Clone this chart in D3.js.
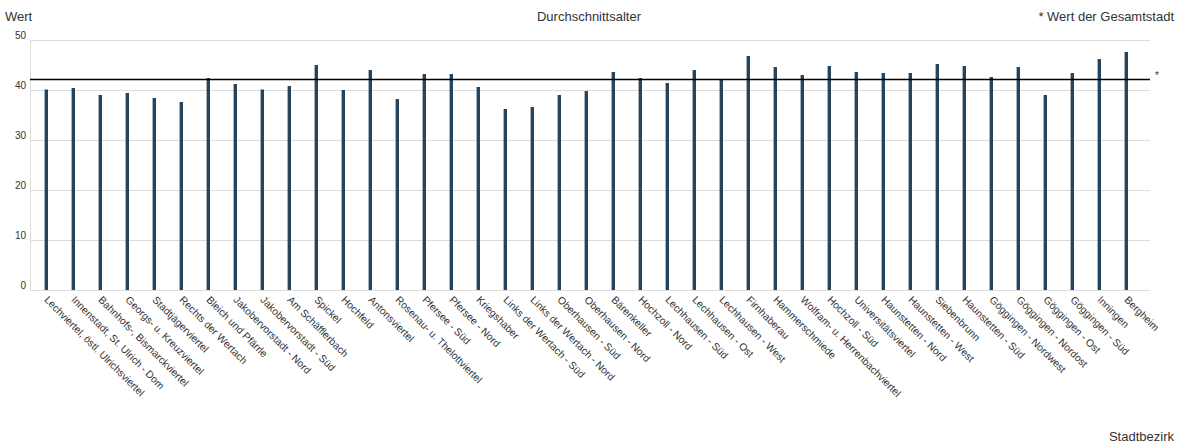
<!DOCTYPE html>
<html><head><meta charset="utf-8">
<script src="https://cdn.jsdelivr.net/npm/d3@7"></script>
<style>body{margin:0;background:#fff}svg{display:block;font-family:"Liberation Sans",Arial,sans-serif}</style>
</head><body><svg id="c" width="1180" height="446"></svg>
<script>
const categories = ["Lechviertel, östl. Ulrichsviertel","Innenstadt, St. Ulrich - Dom","Bahnhofs-, Bismarckviertel","Georgs- u. Kreuzviertel","Stadtjägerviertel","Rechts der Wertach","Bleich und Pfärrle","Jakobervorstadt - Nord","Jakobervorstadt - Süd","Am Schäfflerbach","Spickel","Hochfeld","Antonsviertel","Rosenau- u. Thelottviertel","Pfersee - Süd","Pfersee - Nord","Kriegshaber","Links der Wertach - Süd","Links der Wertach - Nord","Oberhausen - Süd","Oberhausen - Nord","Bärenkeller","Hochzoll - Nord","Lechhausen - Süd","Lechhausen - Ost","Lechhausen - West","Firnhaberau","Hammerschmiede","Wolfram- u. Herrenbachviertel","Hochzoll - Süd","Universitätsviertel","Haunstetten - Nord","Haunstetten - West","Siebenbrunn","Haunstetten - Süd","Göggingen - Nordwest","Göggingen - Nordost","Göggingen - Ost","Göggingen - Süd","Inningen","Bergheim"];
const values = [40.1,40.4,39.0,39.4,38.4,37.6,42.4,41.2,40.1,40.8,45.0,40.0,44.0,38.2,43.2,43.2,40.6,36.2,36.6,39.0,39.8,43.6,42.4,41.4,44.0,42.2,46.8,44.6,43.0,44.8,43.6,43.4,43.4,45.2,44.8,42.6,44.6,39.0,43.4,46.2,47.6];
const cityValue = 42.1;
const yTicks = [0,10,20,30,40,50];
const title = "Durchschnittsalter";
const yTitle = "Wert";
const xTitle = "Stadtbezirk";
const legendText = "* Wert der Gesamtstadt";

const svg = d3.select("#c");
const pL = 30, pR = 1150, pT = 40, pB = 290;
const x = d3.scaleBand().domain(categories).range([32.8, 1139.8]);
const y = d3.scaleLinear().domain([0,50]).range([pB, pT]);
const txt = "#333";

// gridlines
svg.append("g").selectAll("line").data(yTicks).join("line")
  .attr("x1", pL).attr("x2", pR)
  .attr("y1", d => y(d)+0.5).attr("y2", d => y(d)+0.5)
  .attr("stroke", "#dcdcdc").attr("stroke-width", 1);
// y axis line
svg.append("line").attr("x1", pL+0.5).attr("x2", pL+0.5).attr("y1", pT).attr("y2", pB+0.5)
  .attr("stroke", "#dcdcdc");
// tick labels
svg.append("g").selectAll("text").data(yTicks).join("text")
  .attr("x", 26).attr("y", d => y(d)-1).attr("text-anchor", "end")
  .attr("font-size", 10).attr("fill", txt).text(d => d);

// bars
const bw = 3.4;
svg.append("g").selectAll("rect").data(values).join("rect")
  .attr("x", (d,i) => x(categories[i]) + x.bandwidth()/2 - bw/2)
  .attr("width", bw)
  .attr("y", d => y(d)).attr("height", d => y(0) - y(d))
  .attr("fill", "#26445c");

// reference line
svg.append("line").attr("x1", pL).attr("x2", pR)
  .attr("y1", y(cityValue)).attr("y2", y(cityValue))
  .attr("stroke", "#000").attr("stroke-width", 1.4);
svg.append("text").attr("x", 1155).attr("y", y(cityValue)-1).attr("font-size", 10).attr("fill", txt).text("*");

// x labels
svg.append("g").selectAll("text").data(categories).join("text")
  .attr("transform", d => `translate(${x(d)+x.bandwidth()/2},${pB+8}) rotate(45)`)
  .attr("font-size", 10.3).attr("fill", txt).attr("dy", "0.35em").text(d => d);

// titles
svg.append("text").attr("x", 5).attr("y", 21).attr("font-size", 13).attr("fill", txt).text(yTitle);
svg.append("text").attr("x", 589).attr("y", 21).attr("text-anchor", "middle").attr("font-size", 13).attr("fill", txt).text(title);
svg.append("text").attr("x", 1174).attr("y", 21).attr("text-anchor", "end").attr("font-size", 13).attr("fill", txt).text(legendText);
svg.append("text").attr("x", 1174).attr("y", 441).attr("text-anchor", "end").attr("font-size", 13).attr("fill", txt).text(xTitle);
</script></body></html>
